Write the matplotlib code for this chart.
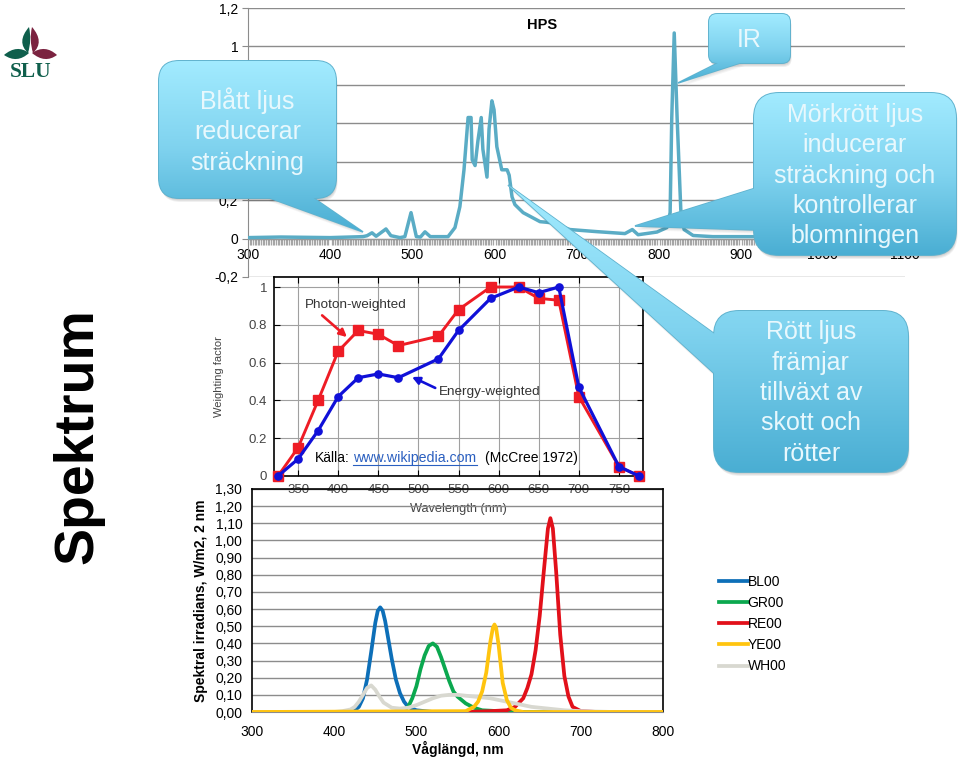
import numpy as np
import matplotlib
matplotlib.use("Agg")
import matplotlib.pyplot as plt
from matplotlib.colors import LinearSegmentedColormap
from matplotlib.lines import Line2D
from matplotlib.patches import FancyBboxPatch, PathPatch, Polygon
from matplotlib.path import Path

plt.rcParams['font.family'] = ['Liberation Sans', 'DejaVu Sans']
plt.rcParams['font.size'] = 10

# HPS spectrum
hps_nm = [300, 340, 400, 440, 445, 451, 456, 468, 474, 485, 491, 498.5, 505, 510, 515.5, 522, 543.6, 552, 558, 563,
          568, 571.6, 573, 576.5, 580, 584, 586, 591, 593.5, 597, 599.6, 603, 609, 615.5, 618, 621.5, 625, 635,
          655.6, 668, 692, 725, 759, 768, 775, 798, 810, 814, 816, 819, 822.5, 827, 831, 842, 866, 1100]
hps_val = [0.005, 0.008, 0.005, 0.01, 0.015, 0.03, 0.012, 0.05, 0.015, 0.005, 0.01, 0.135, 0.01, 0.008, 0.035, 0.01,
           0.01, 0.057, 0.166, 0.358, 0.63, 0.63, 0.41, 0.38, 0.51, 0.63, 0.465, 0.32, 0.57, 0.717, 0.67, 0.478,
           0.358, 0.358, 0.33, 0.217, 0.177, 0.135, 0.088, 0.083, 0.047, 0.036, 0.026, 0.047, 0.02, 0.034, 0.057,
           0.135, 0.63, 1.07, 0.63, 0.15, 0.047, 0.016, 0.01, 0.01]
hps_yticks = [-0.2, 0, 0.2, 0.4, 0.6, 0.8, 1, 1.2]
# 0,4 0,6 0,8 sit behind the blue callout in the picture
hps_ylabels = ['-0,2', '0', '0,2', '', '', '', '1', '1,2']
hps_xticks = [300, 400, 500, 600, 700, 800, 900, 1000, 1100]

# McCree curve
mccree_nm = [325, 350, 375, 400, 425, 450, 475, 525, 550, 590, 625, 650, 675, 700, 750, 775]
photon_weighted = [0, 0.15, 0.40, 0.66, 0.77, 0.75, 0.69, 0.74, 0.88, 1, 1, 0.94, 0.93, 0.42, 0.05, 0]
energy_weighted = [0, 0.09, 0.24, 0.42, 0.52, 0.54, 0.52, 0.62, 0.77, 0.94, 1, 0.97, 1, 0.47, 0.05, 0]
mccree_xticks = [350, 400, 450, 500, 550, 600, 650, 700, 750]
mccree_yticks = [0, 0.2, 0.4, 0.6, 0.8, 1]
mccree_ylabels = ['0', '0.2', '0.4', '0.6', '0.8', '1']

# LED spectra
bl_nm = [300, 420, 425, 430, 435, 440, 445, 450, 453, 456, 459, 462, 466, 470, 475, 480, 485, 490, 500, 520, 800]
bl_val = [0, 0, 0.01, 0.03, 0.08, 0.19, 0.35, 0.52, 0.59, 0.61, 0.59, 0.53, 0.42, 0.31, 0.19, 0.11, 0.06, 0.03, 0.01, 0, 0]
gr_nm = [300, 480, 485, 490, 495, 500, 505, 510, 515, 520, 525, 530, 535, 540, 545, 550, 560, 570, 580, 600, 620, 800]
gr_val = [0, 0, 0.01, 0.03, 0.08, 0.15, 0.25, 0.33, 0.385, 0.40, 0.38, 0.32, 0.25, 0.18, 0.12, 0.09, 0.05, 0.025, 0.01, 0.005, 0, 0]
re_nm = [300, 560, 590, 610, 620, 630, 635, 640, 645, 650, 655, 660, 663, 666, 670, 675, 680, 685, 690, 700, 720, 800]
re_val = [0, 0, 0.005, 0.01, 0.03, 0.08, 0.14, 0.22, 0.36, 0.56, 0.82, 1.07, 1.13, 1.07, 0.82, 0.45, 0.21, 0.09, 0.03, 0.005, 0, 0]
ye_nm = [300, 560, 570, 575, 580, 585, 590, 593, 595, 597, 600, 605, 610, 615, 620, 630, 800]
ye_val = [0, 0.005, 0.03, 0.06, 0.12, 0.23, 0.41, 0.49, 0.51, 0.49, 0.39, 0.17, 0.07, 0.025, 0.01, 0, 0]
wh_nm = [300, 400, 410, 420, 425, 430, 435, 440, 445, 450, 455, 460, 470, 480, 490, 500, 510, 520, 530, 540, 550, 560,
         570, 580, 590, 600, 610, 620, 630, 640, 660, 680, 700, 740, 800]
wh_val = [0, 0, 0.005, 0.015, 0.03, 0.06, 0.10, 0.14, 0.155, 0.13, 0.09, 0.055, 0.025, 0.02, 0.025, 0.04, 0.06, 0.08,
          0.095, 0.10, 0.10, 0.095, 0.09, 0.085, 0.08, 0.07, 0.06, 0.05, 0.04, 0.03, 0.02, 0.01, 0.005, 0, 0]
led_yticks = [0, 0.1, 0.2, 0.3, 0.4, 0.5, 0.6, 0.7, 0.8, 0.9, 1.0, 1.1, 1.2, 1.3]
led_ylabels = ['0,00', '0,10', '0,20', '0,30', '0,40', '0,50', '0,60', '0,70', '0,80', '0,90', '1,00', '1,10', '1,20', '1,30']
led_xticks = [300, 400, 500, 600, 700, 800]

fig = plt.figure(figsize=(9.6, 7.6), dpi=100)


def px_axes(left, top, right, bottom, z):
    return fig.add_axes([left / 960, 1 - bottom / 760, (right - left) / 960, (bottom - top) / 760], zorder=z)


# top chart
ax1 = px_axes(248, 8, 905, 277, 1)
ax1.set_xlim(300, 1100)
ax1.set_ylim(-0.2, 1.2)
ax1.plot(hps_nm, hps_val, color='#5AACC5', lw=2.5, solid_joinstyle='round', zorder=3)
ax1.set_yticks(hps_yticks, hps_ylabels)
ax1.set_xticks(hps_xticks, [str(v) for v in hps_xticks])
ax1.set_xticks(np.arange(300, 1101, 2), minor=True)
ax1.grid(axis='y', color='#8C8C8C', lw=1.0)
ax1.set_axisbelow(True)
for s in ['top', 'right']:
    ax1.spines[s].set_visible(False)
ax1.spines['left'].set_color('#8C8C8C')
ax1.spines['bottom'].set_position(('data', 0))
ax1.spines['bottom'].set_color('#999999')
ax1.tick_params(axis='x', which='major', length=0, pad=7)
ax1.tick_params(axis='x', which='minor', length=4, width=0.9, color='#A6A6A6')
ax1.tick_params(axis='y', length=4, color='#8C8C8C', pad=3)
fig.text(542 / 960, 1 - 25 / 760, 'HPS', fontsize=10.5, fontweight='bold', ha='center', va='center', zorder=1)

# McCree chart
ax2 = px_axes(274, 277, 643, 476, 2)
ax2.set_xlim(320, 780)
ax2.set_ylim(0, 1.053)
ax2.plot(mccree_nm, photon_weighted, color='#EE1C25', lw=2.1, marker='s', ms=6.5, clip_on=False, zorder=3)
ax2.plot(mccree_nm, energy_weighted, color='#1010D8', lw=2.3, marker='o', ms=5.2, clip_on=False, zorder=4)
ax2.set_xticks(mccree_xticks, [str(v) for v in mccree_xticks])
ax2.set_yticks(mccree_yticks, mccree_ylabels)
ax2.grid(color='#A0A0A0', lw=0.8)
ax2.set_axisbelow(True)
ax2.tick_params(axis='both', direction='in', top=True, right=True, length=4, width=0.8, labelsize=9.5, labelcolor='#444444')
ax2.tick_params(axis='y', pad=5)
ax2.tick_params(axis='x', pad=6)
for s in ax2.spines.values():
    s.set_linewidth(1.2)
ax2.set_xlabel('Wavelength (nm)', fontsize=9.2, color='#444444', labelpad=5)
ax2.set_ylabel('Weighting factor', fontsize=8, color='#444444', labelpad=18)
ax2.text(422, 0.905, 'Photon-weighted', fontsize=9.7, color='#333333', ha='center', va='center')
ax2.text(589, 0.444, 'Energy-weighted', fontsize=9.7, color='#333333', ha='center', va='center')
ax2.annotate('', xy=(411, 0.735), xytext=(380, 0.85),
             arrowprops=dict(arrowstyle='-|>', color='#EE1C25', lw=1.9, shrinkA=0, shrinkB=0, mutation_scale=11))
ax2.annotate('', xy=(492, 0.524), xytext=(521, 0.466),
             arrowprops=dict(arrowstyle='-|>', color='#1010D8', lw=1.9, shrinkA=0, shrinkB=0, mutation_scale=11))

# LED chart
ax3 = px_axes(252, 489, 663, 712, 3)
ax3.patch.set_alpha(0)
ax3.set_xlim(300, 800)
ax3.set_ylim(0, 1.3)
line_bl, = ax3.plot(bl_nm, bl_val, color='#0D6FB8', lw=2.7, zorder=3, label='BL00')
line_gr, = ax3.plot(gr_nm, gr_val, color='#0BA84F', lw=2.7, zorder=3, label='GR00')
line_re, = ax3.plot(re_nm, re_val, color='#E2101A', lw=2.7, zorder=3, label='RE00')
line_wh, = ax3.plot(wh_nm, wh_val, color='#D8D8D0', lw=2.7, zorder=4, label='WH00')
line_ye, = ax3.plot(ye_nm, ye_val, color='#FFC40F', lw=2.7, zorder=5, label='YE00')
ax3.set_yticks(led_yticks, led_ylabels)
ax3.set_xticks(led_xticks, [str(v) for v in led_xticks])
ax3.grid(axis='y', color='#8C8C8C', lw=1.0)
ax3.set_axisbelow(True)
ax3.tick_params(axis='both', length=0)
ax3.tick_params(axis='y', pad=7)
ax3.tick_params(axis='x', pad=9)
ax3.spines['bottom'].set_color('#8C8C8C')
for s in ['top', 'left', 'right']:
    ax3.spines[s].set_linewidth(1.2)
ax3.set_xlabel('Våglängd, nm', fontweight='bold', labelpad=2)
ax3.set_ylabel('Spektral irradians, W/m2, 2 nm', fontweight='bold', fontsize=10, labelpad=5)

fig.legend(handles=[line_bl, line_gr, line_re, line_ye, line_wh], frameon=False, loc='upper left',
           bbox_to_anchor=(713 / 960, 1 - 569 / 760), handlelength=2.1, handletextpad=0, labelspacing=0.52,
           borderpad=0.4, borderaxespad=0)

# overlay in pixel coordinates for callouts, logo and loose text
top = px_axes(0, 0, 960, 760, 4)
top.set_xlim(0, 960)
top.set_ylim(760, 0)
top.axis('off')
top.patch.set_alpha(0)

grad_cmap = LinearSegmentedColormap.from_list('callout', ['#A2EBFF', '#80D3EF', '#4AAED3'])
grad = np.linspace(0, 1, 256).reshape(-1, 1)


def callout(x0, y0, x1, y1, r, tail, lines, lsp=1.34):
    xs = [x0, x1] + [p[0] for p in tail]
    ys = [y0, y1] + [p[1] for p in tail]
    ext = (min(xs), max(xs), max(ys), min(ys))
    style = 'round,pad=0,rounding_size=%d' % r
    for off in [1, 2, 3, 4]:
        top.add_patch(FancyBboxPatch((x0 + off * 0.4, y0 + off), x1 - x0, y1 - y0, boxstyle=style,
                                     fc='black', ec='none', alpha=0.06))
        top.add_patch(Polygon([(p[0] + off * 0.4, p[1] + off) for p in tail], closed=True,
                              fc='black', ec='none', alpha=0.04))
    # outlines sit under the gradient so the tail joins the box without a seam
    top.add_patch(FancyBboxPatch((x0, y0), x1 - x0, y1 - y0, boxstyle=style, fc='none', ec='#5FB2CE', lw=1.4, zorder=1.9))
    top.add_patch(Polygon(tail, closed=True, fc='none', ec='#5FB2CE', lw=1.2, zorder=1.9))
    tail_patch = Polygon(tail, closed=True, fc='none', ec='none')
    box_patch = FancyBboxPatch((x0, y0), x1 - x0, y1 - y0, boxstyle=style, fc='none', ec='none')
    top.add_patch(tail_patch)
    top.add_patch(box_patch)
    for p in [tail_patch, box_patch]:
        im = top.imshow(grad, cmap=grad_cmap, extent=ext, aspect='auto', zorder=2)
        im.set_clip_path(p)
    top.text((x0 + x1) / 2, (y0 + y1) / 2 + 1.5, lines, color='#E8F8FD', fontsize=18, ha='center', va='center',
             linespacing=lsp, zorder=4)


callout(159, 61, 336, 198, 20, [(267, 197), (312, 197), (363, 232)], 'Blått ljus\nreducerar\nsträckning')
callout(709, 14, 790, 63, 8, [(720, 62), (743, 62), (678, 83)], 'IR')
callout(754, 93, 956, 255, 25, [(756, 188), (756, 230), (635, 226)], 'Mörkrött ljus\ninducerar\nsträckning och\nkontrollerar\nblomningen')
callout(714, 311, 908, 472, 25, [(716, 335), (716, 375), (508, 185)], 'Rött ljus\nfrämjar\ntillväxt av\nskott och\nrötter')
top.set_xlim(0, 960)
top.set_ylim(760, 0)

# source text
top.text(315, 458, 'Källa:', ha='left', va='center', fontsize=10, zorder=5)
top.text(353, 458, 'www.wikipedia.com', ha='left', va='center', fontsize=10.2, color='#2A5FC0', zorder=5)
top.add_line(Line2D([353, 477], [465, 465], color='#2A5FC0', lw=0.8, zorder=5))
top.text(485, 458, '(McCree 1972)', ha='left', va='center', fontsize=10, zorder=5)

top.text(92, 436.5, 'Spektrum', rotation=90, rotation_mode='anchor', ha='center', va='baseline',
         fontsize=40, fontweight='bold', zorder=5)

# SLU logo
MO, CU = Path.MOVETO, Path.CURVE3
green_leaf = [(29, 27), (16, 42), (28, 53), (32, 40), (29, 27)]
green_side = [(4, 55), (17, 44), (29, 53), (17, 64), (4, 55)]
red_leaf = [(32, 27), (45, 42), (33, 53), (29, 40), (32, 27)]
red_side = [(57, 55), (45, 44), (32, 53), (45, 64), (57, 55)]
for pts, col in [(green_leaf, '#0F5F4C'), (green_side, '#0F5F4C'), (red_leaf, '#7B2340'), (red_side, '#7B2340')]:
    top.add_patch(PathPatch(Path(pts, [MO, CU, CU, CU, CU]), fc=col, ec='none', zorder=5))
top.text(30.5, 72, 'SLU', family=['Liberation Serif', 'DejaVu Serif'], fontsize=15.5, fontweight='bold', color='#0F5F4C',
         ha='center', va='center', zorder=5)

fig.savefig('out.png', dpi=100)
